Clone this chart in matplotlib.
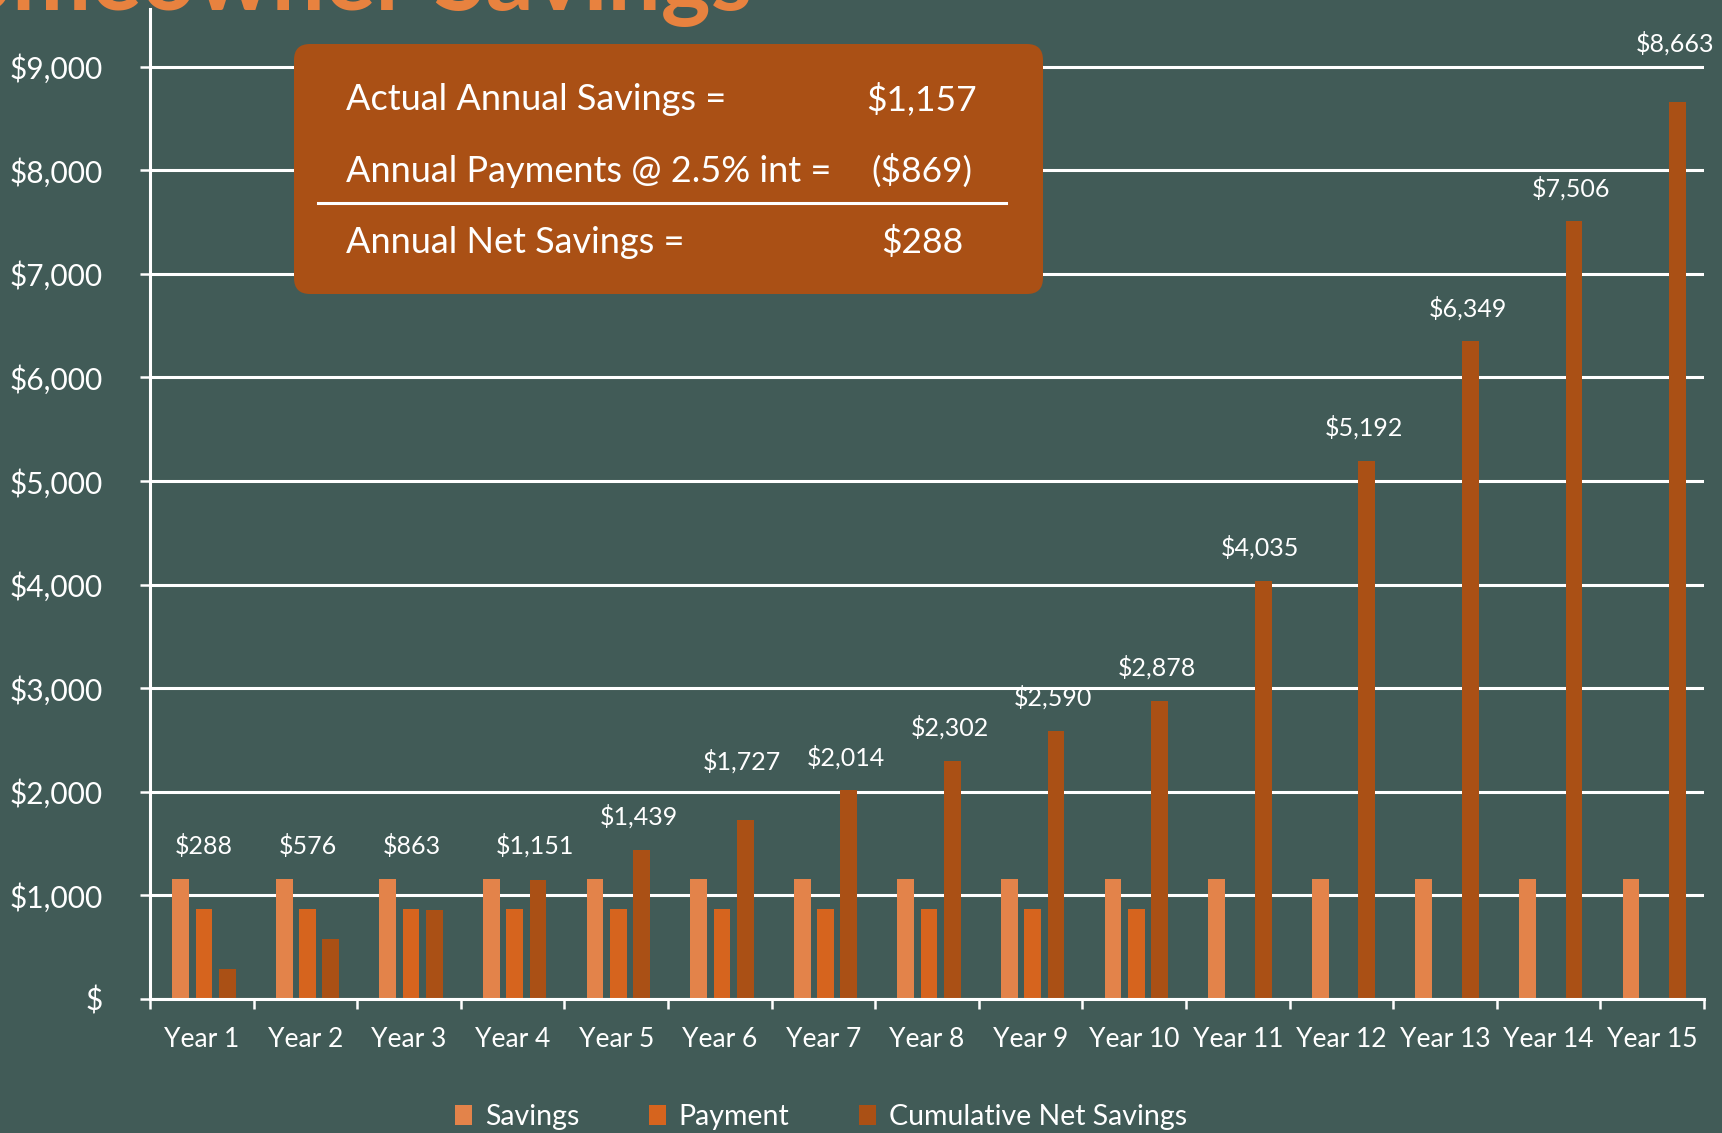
### homeowner savings chart
# grouped bars: savings, payment, cumulative net savings per year

import numpy as np
import matplotlib.pyplot as plt
from matplotlib.patches import FancyBboxPatch, Patch
from matplotlib.lines import Line2D
from matplotlib.transforms import IdentityTransform

# data
years = ['Year 1', 'Year 2', 'Year 3', 'Year 4', 'Year 5', 'Year 6', 'Year 7', 'Year 8',
         'Year 9', 'Year 10', 'Year 11', 'Year 12', 'Year 13', 'Year 14', 'Year 15']
savings = [1157, 1157, 1157, 1157, 1157, 1157, 1157, 1157, 1157, 1157, 1157, 1157, 1157, 1157, 1157]
payment = [869, 869, 869, 869, 869, 869, 869, 869, 869, 869, 0, 0, 0, 0, 0]
cumulative = [288, 576, 863, 1151, 1439, 1727, 2014, 2302, 2590, 2878, 4035, 5192, 6349, 7506, 8663]
y_ticks = [0, 1000, 2000, 3000, 4000, 5000, 6000, 7000, 8000, 9000]
y_labels = ['$', '$1,000', '$2,000', '$3,000', '$4,000', '$5,000', '$6,000', '$7,000', '$8,000', '$9,000']
box_rows = [('Actual Annual Savings =', '$1,157'),
            ('Annual Payments @ 2.5% int =', '($869)'),
            ('Annual Net Savings =', '$288')]

bg = '#415B57'
c_sav = '#E3834A'
c_pay = '#D6641E'
c_cum = '#AA5015'
c_title = '#E8823F'

plt.rcParams['font.family'] = ['Lato', 'DejaVu Sans']

W, H = 1722, 1133
fig = plt.figure(figsize=(W / 100, H / 100), dpi=100, facecolor=bg)
ax = fig.add_axes([150 / W, (H - 999) / H, 1554 / W, 990 / H])
ax.set_facecolor(bg)

x = np.arange(len(years)) + 0.52
bw = 0.161
ax.bar(x - 0.225, savings, bw, color=c_sav, zorder=3)
ax.bar(x, payment, bw, color=c_pay, zorder=3)
ax.bar(x + 0.225, cumulative, bw, color=c_cum, zorder=3)

ax.set_xlim(0, 15)
ax.set_ylim(0, 9556)

# grid + axes
ax.set_yticks(y_ticks)
ax.set_yticklabels(y_labels)
ax.yaxis.grid(True, color='white', lw=2.2, zorder=1)
ax.set_axisbelow(True)
for s in ['top', 'right']:
    ax.spines[s].set_visible(False)
for s in ['left', 'bottom']:
    ax.spines[s].set_color('white')
    ax.spines[s].set_linewidth(2.2)
    ax.spines[s].set_zorder(4)

ax.set_xticks(np.arange(16))
ax.set_xticklabels([])
ax.set_xticks(np.arange(len(years)) + 0.5, minor=True)
ax.set_xticklabels(years, minor=True)
ax.tick_params(axis='x', which='major', length=7.5, width=1.8, color='white')
ax.tick_params(axis='x', which='minor', length=0, pad=20, labelsize=19, labelcolor='white')
ax.tick_params(axis='y', length=7.2, width=1.8, color='white', pad=27, labelsize=21.5, labelcolor='white')

# value labels
for i in range(len(years)):
    top = max(savings[i], payment[i], cumulative[i])
    lx = x[i] + 0.225
    if cumulative[i] < savings[i] - 100:
        lx = x[i] + 0.03
    off = 24
    # keep label clear of a gridline it would sit on
    ly = top + 320
    if abs(ly - round(ly / 1000) * 1000) < 50:
        off = 42
    ax.annotate('$' + format(cumulative[i], ','), (lx, top), xytext=(-2, off),
                textcoords='offset points', ha='center', va='center',
                fontsize=18, color='white')

# title (cut off at top)
fig.text(752, H - 10, 'Homeowner Savings', transform=IdentityTransform(),
         ha='right', va='baseline', fontsize=68, fontweight='bold', color=c_title)

# info box
box = FancyBboxPatch((294, H - 294), 749, 250, boxstyle='round,pad=0,rounding_size=16',
                     transform=IdentityTransform(), facecolor=c_cum, edgecolor='none', zorder=5)
fig.add_artist(box)
row_y = [110, 182, 253]
for (lab, val), ry in zip(box_rows, row_y):
    fig.text(346, H - ry, lab, transform=IdentityTransform(), ha='left', va='baseline',
             fontsize=26, color='white', zorder=6)
    fig.text(922, H - ry, val, transform=IdentityTransform(), ha='center', va='baseline',
             fontsize=25.5, color='white', zorder=6)
fig.add_artist(Line2D([318, 1006], [H - 203, H - 203], transform=IdentityTransform(),
                      color='white', lw=2.2, zorder=6))

# legend
handles = [Patch(facecolor=c_sav, label='Savings'),
           Patch(facecolor=c_pay, label='Payment'),
           Patch(facecolor=c_cum, label='Cumulative Net Savings')]
fig.legend(handles=handles, loc='center', bbox_to_anchor=(821 / W, 1 - 1117 / H), ncol=3,
           frameon=False, fontsize=20.5, handlelength=0.6, handleheight=0.7,
           handletextpad=0.45, columnspacing=2.45, labelcolor='white')

fig.savefig('out.png', dpi=100, facecolor=bg)
